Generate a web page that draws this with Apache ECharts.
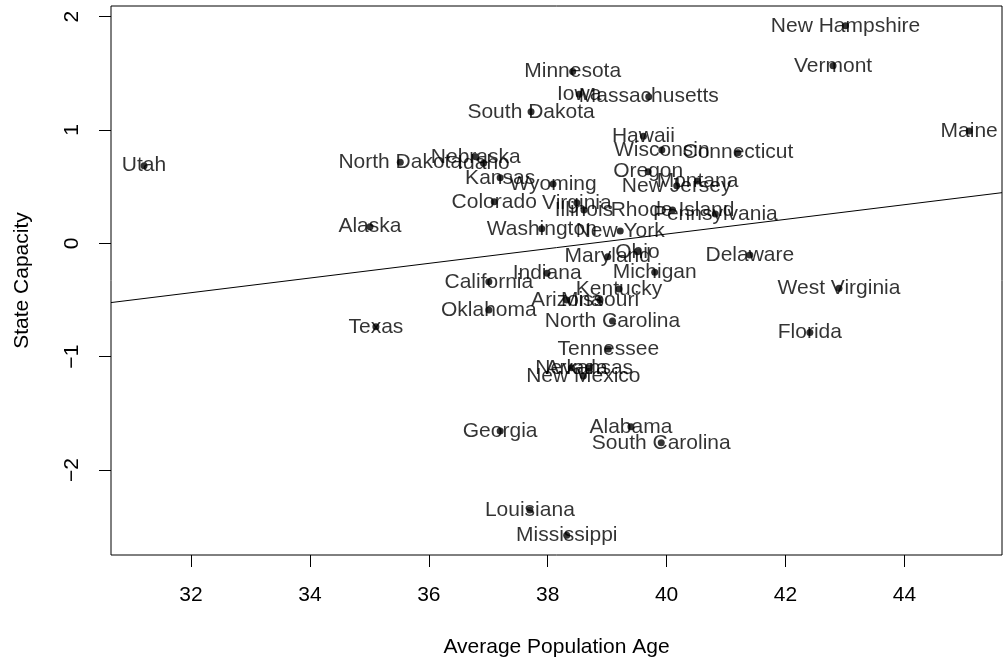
<!DOCTYPE html>
<html>
<head>
<meta charset="utf-8">
<title>State Capacity vs Average Population Age</title>
<script src="https://cdn.jsdelivr.net/npm/echarts@6/dist/echarts.min.js"></script>
<style>
  html, body { margin: 0; padding: 0; background: #fff; }
  #chart { width: 1005px; height: 664px; }
</style>
</head>
<body>
<div id="chart"></div>
<script>
// data
var states = ['Utah', 'North Dakota', 'Nebraska', 'Idaho', 'South Dakota', 'Kansas', 'Colorado', 'Alaska',
  'Washington', 'Wyoming', 'Virginia', 'Illinois', 'New Hampshire', 'Vermont', 'Minnesota', 'Iowa',
  'Massachusetts', 'Maine', 'Hawaii', 'Wisconsin', 'Connecticut', 'Oregon', 'New Jersey', 'Montana',
  'Rhode Island', 'Pennsylvania', 'New York', 'Maryland', 'Ohio', 'Delaware', 'Michigan', 'Indiana',
  'California', 'Kentucky', 'Arizona', 'Missouri', 'Oklahoma', 'North Carolina', 'Tennessee', 'Nevada',
  'Arkansas', 'New Mexico', 'Texas', 'Georgia', 'Alabama', 'South Carolina', 'Louisiana', 'Mississippi',
  'West Virginia', 'Florida'];
var avgAge = [31.21, 35.52, 36.79, 36.92, 37.72, 37.20, 37.10, 35.01,
  37.90, 38.09, 38.49, 38.61, 43.01, 42.80, 38.42, 38.53,
  39.70, 45.09, 39.61, 39.92, 41.20, 39.69, 40.17, 40.52,
  40.10, 40.82, 39.22, 39.01, 39.51, 41.40, 39.80, 37.99,
  37.01, 39.20, 38.32, 38.88, 37.01, 39.09, 39.02, 38.40,
  38.70, 38.60, 35.11, 37.20, 39.40, 39.91, 37.70, 38.32,
  42.90, 42.41];
var capacity = [0.685, 0.715, 0.764, 0.706, 1.16, 0.579, 0.367, 0.147,
  0.128, 0.523, 0.358, 0.294, 1.92, 1.567, 1.515, 1.315,
  1.294, 0.991, 0.945, 0.823, 0.80, 0.632, 0.508, 0.55,
  0.295, 0.259, 0.108, -0.118, -0.074, -0.103, -0.256, -0.265,
  -0.339, -0.403, -0.50, -0.50, -0.589, -0.686, -0.933, -1.098,
  -1.10, -1.171, -0.736, -1.657, -1.619, -1.76, -2.354, -2.575,
  -0.397, -0.786];
var xTicks = [32, 34, 36, 38, 40, 42, 44];
var yTicks = [-2, -1, 0, 1, 2];
// fitted line: intercept, slope
var fit = [-2.506, 0.0647];

var xMin = 30.654, xMax = 45.642;
var yMin = -2.75, yMax = 2.094;

var font = 'Liberation Sans, Arial, Helvetica, sans-serif';

var points = states.map(function (s, i) {
  return { name: s, value: [avgAge[i], capacity[i]] };
});
var fitLine = [
  [xMin, fit[0] + fit[1] * xMin],
  [xMax, fit[0] + fit[1] * xMax]
];

var chart = echarts.init(document.getElementById('chart'));
chart.setOption({
  backgroundColor: '#fff',
  animation: false,
  grid: {
    left: 111, right: 3, top: 6, bottom: 109,
    show: true, borderColor: '#000', borderWidth: 1
  },
  xAxis: {
    type: 'value',
    min: xMin, max: xMax,
    name: 'Average Population Age',
    nameLocation: 'middle',
    nameGap: 82,
    nameTextStyle: { color: '#000', fontSize: 21, fontFamily: font },
    axisLine: { show: false, onZero: false },
    axisTick: {
      show: true, length: 12, inside: false,
      customValues: xTicks,
      lineStyle: { color: '#000', width: 1 }
    },
    axisLabel: {
      customValues: xTicks,
      margin: 30, color: '#000', fontSize: 21, fontFamily: font
    },
    splitLine: { show: false }
  },
  yAxis: {
    type: 'value',
    min: yMin, max: yMax,
    name: 'State Capacity',
    nameLocation: 'middle',
    nameRotate: 90,
    nameGap: 78,
    nameTextStyle: { color: '#000', fontSize: 21, fontFamily: font },
    axisLine: { show: false, onZero: false },
    axisTick: {
      show: true, length: 12, inside: false,
      customValues: yTicks,
      lineStyle: { color: '#000', width: 1 }
    },
    axisLabel: {
      customValues: yTicks,
      rotate: 90,
      margin: 28, color: '#000', fontSize: 21, fontFamily: font,
      formatter: function (v) { return String(v).replace('-', '\u2212'); }
    },
    splitLine: { show: false }
  },
  series: [
    {
      type: 'line',
      data: fitLine,
      showSymbol: false,
      symbol: 'none',
      lineStyle: { color: '#000', width: 1 },
      silent: true,
      z: 1
    },
    {
      type: 'scatter',
      data: points,
      symbol: 'circle',
      symbolSize: 7,
      itemStyle: { color: '#000' },
      label: {
        show: true,
        position: 'inside',
        formatter: '{b}',
        color: '#000',
        textBorderWidth: 0,
        fontSize: 21,
        fontFamily: font
      },
      z: 2
    }
  ]
});
</script>
</body>
</html>
